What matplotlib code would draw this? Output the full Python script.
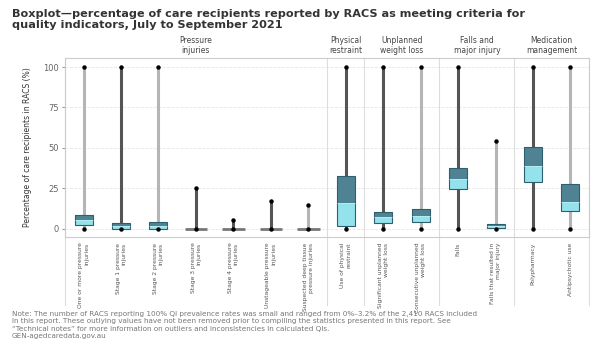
import numpy as np
import matplotlib.pyplot as plt
import matplotlib.transforms as mtransforms

# categories and box statistics
labels = ["One or more pressure\ninjuries", "Stage 1 pressure\ninjuries",
          "Stage 2 pressure\ninjuries", "Stage 3 pressure\ninjuries",
          "Stage 4 pressure\ninjuries", "Unstageable pressure\ninjuries",
          "Suspected deep tissue\npressure injuries", "Use of physical\nrestraint",
          "Significant unplanned\nweight loss", "Consecutive unplanned\nweight loss",
          "Falls", "Falls that resulted in\nmajor injury",
          "Polypharmacy", "Antipsychotic use"]
mins = [0, 0, 0, 0, 0, 0, 0, 0, 0, 0, 0, 0, 0, 0]
q1 = [2.5, 0, 0, 0, 0, 0, 0, 2, 3.9, 4.5, 24.5, 0.5, 29.2, 11.3]
medians = [5.5, 1.5, 1.5, 0, 0, 0, 0, 16, 7.6, 8, 31, 1.5, 38.9, 16.9]
q3 = [8.6, 3.9, 4, 0, 0, 0, 0, 32.7, 10.7, 12.5, 37.8, 2.9, 50.8, 27.6]
maxs = [100, 100, 100, 25, 5.5, 17, 14.5, 100, 100, 100, 100, 54.5, 100, 100]
whisker_dark = [False, True, False, True, True, True, False, True, True, False, True, False, True, False]

groups = ["Pressure\ninjuries", "Physical\nrestraint", "Unplanned\nweight loss",
          "Falls and\nmajor injury", "Medication\nmanagement"]
group_centers = [3, 7, 8.5, 10.5, 12.5]
separators = [6.5, 7.5, 9.5, 11.5]

dark = '#4f8394'
light = '#93e2ec'
edge = '#2f5f6e'

fig = plt.figure(figsize=(6, 3.5), dpi=100)
ax = fig.add_axes([0.108, 0.323, 0.874, 0.511])

x = np.arange(len(labels))
w = 0.48
for i in x:
    wc = '#555555' if whisker_dark[i] else '#b5b5b5'
    ax.vlines(i, mins[i], maxs[i], color=wc, lw=2.2, zorder=2)
    ax.plot([i, i], [mins[i], maxs[i]], 'o', color='black', ms=2.2, zorder=5)
    if q3[i] - q1[i] > 0:
        ax.bar(i, medians[i] - q1[i], bottom=q1[i], width=w, color=light,
               edgecolor='none', zorder=3)
        ax.bar(i, q3[i] - medians[i], bottom=medians[i], width=w, color=dark,
               edgecolor='none', zorder=3)
        ax.bar(i, q3[i] - q1[i], bottom=q1[i], width=w, fill=False,
               edgecolor=edge, lw=0.8, zorder=4)
        ax.hlines(medians[i], i - w / 2, i + w / 2, color='#b8eef3', lw=0.6, zorder=4)
    else:
        ax.hlines(medians[i], i - 0.3, i + 0.3, color='#777777', lw=2, zorder=4)

ax.set_xlim(-0.5, len(labels) - 0.5)
ax.set_ylim(-5, 105.5)
ax.set_yticks([0, 25, 50, 75, 100])
ax.set_yticklabels(['0', '25', '50', '75', '100'], fontsize=6, color='#666666')
ax.yaxis.grid(True, color='#e6e6e6', ls='--', lw=0.6)
ax.set_axisbelow(True)
ax.set_xticks(x)
ax.set_xticklabels(labels, rotation=90, fontsize=4.3, color='#555555',
                   multialignment='right')
ax.tick_params(axis='x', length=0, pad=4)
ax.tick_params(axis='y', length=2, color='#999999', pad=2)
for s in ax.spines.values():
    s.set_color('#cccccc')
    s.set_linewidth(0.8)
ax.set_ylabel('Percentage of care recipients in RACS (%)', fontsize=5.5,
              color='#333333', labelpad=8)

# panel separators running down through the label area
trans = mtransforms.blended_transform_factory(ax.transData, ax.transAxes)
for sx in separators + [-0.5, len(labels) - 0.5]:
    ax.plot([sx, sx], [-0.38, 1.0], color='#dddddd', lw=0.8, transform=trans,
            clip_on=False, zorder=1)

for gx, g in zip(group_centers, groups):
    ax.text(gx, 1.015, g, transform=trans, ha='center', va='bottom',
            fontsize=5.5, color='#444444')

fig.text(0.02, 0.975, 'Boxplot\u2014percentage of care recipients reported by RACS as meeting criteria for\nquality indicators, July to September 2021',
         fontsize=8.1, fontweight='bold', color='#333333', va='top', ha='left',
         linespacing=1.2)

fig.text(0.02, 0.112, 'Note: The number of RACS reporting 100% QI prevalence rates was small and ranged from 0%\u20133.2% of the 2,410 RACS included\n'
         'in this report. These outlying values have not been removed prior to compiling the statistics presented in this report. See\n'
         '\u201cTechnical notes\u201d for more information on outliers and inconsistencies in calculated QIs.\n'
         'GEN-agedcaredata.gov.au',
         fontsize=5.2, color='#777777', va='top', ha='left', linespacing=1.3)

fig.savefig('out.png', dpi=100)
